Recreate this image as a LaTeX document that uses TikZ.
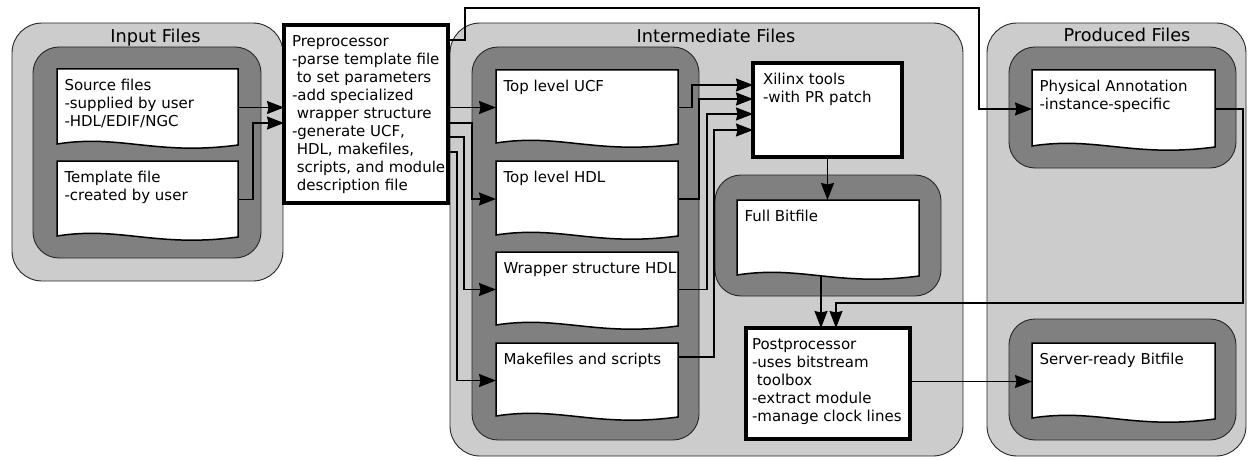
\documentclass[tikz,border=0pt]{standalone}
\usepackage{fontspec}
\setmainfont{DejaVu Sans}
\usetikzlibrary{arrows.meta,calc}

\definecolor{paleshade}{HTML}{CCCCCC}
\definecolor{deepshade}{HTML}{808080}

\tikzset{
  every node/.style={inner sep=0pt, outer sep=0pt},
  groupbox/.style={draw=black!85, line width=0.9pt, fill=paleshade, rounded corners=30pt, anchor=north west},
  storebox/.style={draw=black!85, line width=0.9pt, fill=deepshade, rounded corners=26pt, anchor=north west},
  docarea/.style={anchor=north west, draw=none},
  docline/.style={draw=black, line width=1.5pt, fill=white, line join=miter},
  procbox/.style={draw=black, line width=3.4pt, fill=white, anchor=north west},
  txt/.style={anchor=north west, align=left, font=\fontsize{15}{18}\selectfont},
  heading/.style={anchor=base, font=\fontsize{17.7}{20}\selectfont},
  conn/.style={draw=black, line width=1.3pt, -{Stealth[length=17pt,width=13pt,inset=1.5pt]}},
}

% document symbol: name, left, top, width, height, text
\newcommand\docfile[6]{%
  \node[docarea, minimum width=#4pt, minimum height=#5pt] (#1) at (#2,#3) {};
  \path[docline] ([shift={(0,-2)}]#1.south west) -- (#1.north west) -- (#1.north east)
     -- ([shift={(0,-1)}]#1.south east)
     .. controls ([shift={(0.55*#4,10)}]#1.south west) and ([shift={(0.35*#4,-12)}]#1.south west)
     .. ([shift={(0,-2)}]#1.south west) -- cycle;
  \node[txt] (#1-t) at ([shift={(7.5,10.6)}]#1.north west) {#6};
}
\newcommand\ind{\hspace*{4.8pt}}

\begin{document}
\begin{tikzpicture}[x=1pt, y=-1pt]
\useasboundingbox (0,0) rectangle (1248,460);

% file groups
\node[groupbox, minimum width=271pt, minimum height=258pt] (inputC) at (12,23) {};
\node[groupbox, minimum width=513pt, minimum height=433pt] (interC) at (450,23) {};
\node[groupbox, minimum width=259pt, minimum height=433pt] (prodC) at (987,23) {};

\node[heading] (inputT) at (155.5,43) {Input Files};
\node[heading] (interT) at (716,43) {Intermediate Files};
\node[heading] (prodT) at (1127,42) {Produced Files};

% storage areas
\node[storebox, minimum width=228pt, minimum height=211pt] (inputS) at (33,47) {};
\node[storebox, minimum width=227pt, minimum height=393pt] (interS) at (472,47) {};
\node[storebox, minimum width=226pt, minimum height=121pt] (fullS) at (715,175) {};
\node[storebox, minimum width=227pt, minimum height=121pt] (physS) at (1009,47) {};
\node[storebox, minimum width=227pt, minimum height=121pt] (servS) at (1009,319) {};

% documents
\docfile{src}{57}{69}{181}{77}{Source files\\-supplied by user\\-HDL/EDIF/NGC}
\docfile{tmpl}{57}{161}{181}{77}{Template file\\-created by user}
\docfile{ucf}{496}{70}{182}{75}{Top level UCF}
\docfile{hdl}{496}{161}{182}{76}{Top level HDL}
\docfile{wrap}{496}{252}{182}{75}{Wrapper structure HDL}
\docfile{make}{496}{343}{182}{75}{Makefiles and scripts}
\docfile{full}{737}{200}{182}{77}{Full Bitfile}
\docfile{phys}{1032}{70}{183}{78}{Physical Annotation\\-instance-specific}
\docfile{serv}{1032}{343}{183}{77}{Server-ready Bitfile}

% processing steps
\node[procbox, minimum width=164pt, minimum height=178pt] (pre) at (284,25) {};
\node[txt] (pre-t) at (292,35.6) {Preprocessor\\-parse template file\\\ind to set parameters\\-add specialized\\\ind wrapper structure\\-generate UCF,\\\ind HDL, makefiles,\\\ind scripts, and module\\\ind description file};
\node[procbox, minimum width=149pt, minimum height=94pt] (xil) at (753,63) {};
\node[txt] (xil-t) at (763,73.6) {Xilinx tools\\-with PR patch};
\node[procbox, minimum width=164pt, minimum height=111pt] (post) at (746,328) {};
\node[txt] (post-t) at (752,338.6) {Postprocessor\\-uses bitstream\\\ind toolbox\\-extract module\\-manage clock lines};

% inputs to the preprocessor
\draw[conn] (src.east) -- (src.east -| pre.west);
\draw[conn] (tmpl.east) -- ++(15,0) |- ([shift={(0,98)}]pre.north west);

% preprocessor outputs
\draw[conn] (pre.east |- ucf.west) -- (ucf.west);
\draw[conn] ([shift={(0,98)}]pre.north east) -- (472,123) |- (hdl.west);
\draw[conn] ([shift={(0,112)}]pre.north east) -- (464,137) |- (wrap.west);
\draw[conn] ([shift={(0,127)}]pre.north east) -- (457,152) |- (make.west);
\draw[conn] ([shift={(0,15)}]pre.north east) -- (465,40) -- (465,8) -- (979,8) |- (phys.west);

% intermediate files into the Xilinx tools
\draw[conn] (ucf.east) -| (692,85) -- ([shift={(0,22)}]xil.north west);
\draw[conn] (hdl.east) -| (699,99) -- ([shift={(0,36)}]xil.north west);
\draw[conn] (wrap.east) -| (707,114) -- ([shift={(0,51)}]xil.north west);
\draw[conn] ([shift={(0,14)}]make.north east) -| (714,130) -- ([shift={(0,67)}]xil.north west);

% bitfile flow
\draw[conn] (xil.south) -- (xil.south |- full.north);
\draw[conn] ([shift={(-7,-1)}]full.south) -- ([shift={(-7,0)}]post.north);
\draw[conn] (phys.east) -| (1243,303) -| ([shift={(8,0)}]post.north);
\draw[conn] (post.east |- serv.west) -- (serv.west);
\end{tikzpicture}
\end{document}
